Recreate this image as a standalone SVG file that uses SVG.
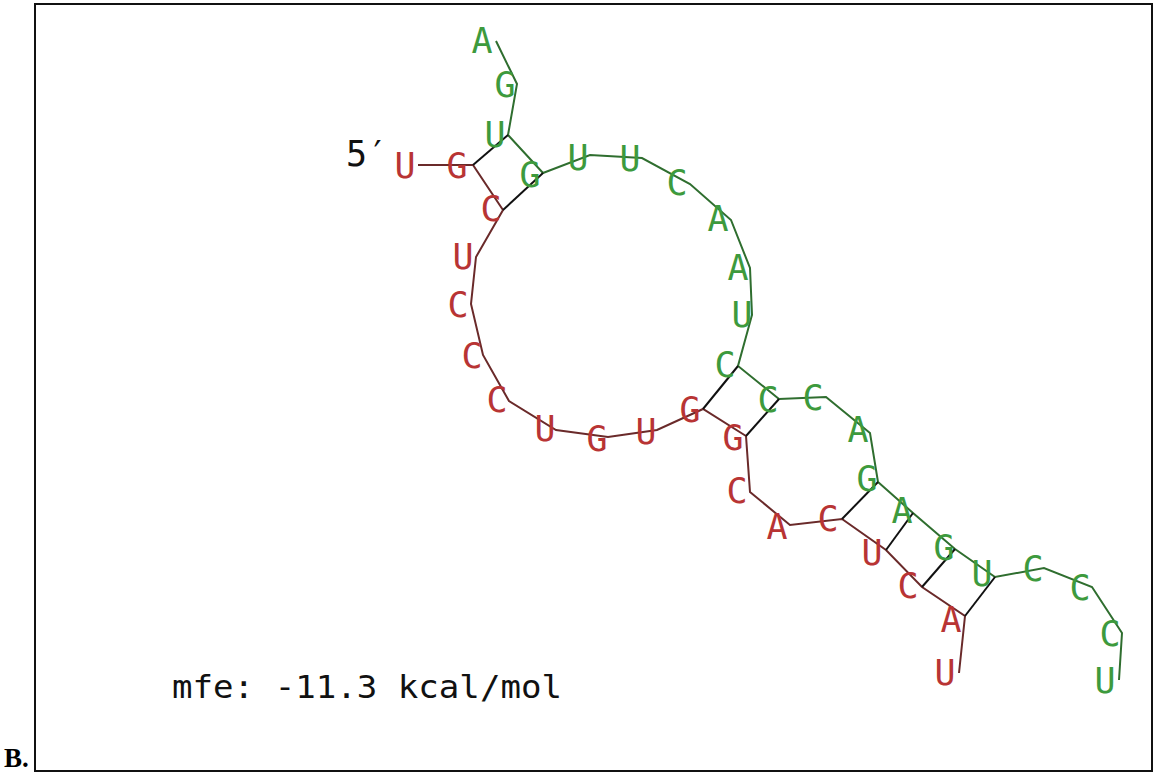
<svg xmlns="http://www.w3.org/2000/svg" width="1153" height="774" viewBox="0 0 1153 774">
<style>
.nt{font-family:"DejaVu Sans Mono","Liberation Mono",monospace;font-size:35px;text-anchor:middle}
.r{fill:#b83434}
.g{fill:#3d9a3d}
.bbr{stroke:#6a2a2a;stroke-width:2;fill:none}
.bbg{stroke:#2f6e2f;stroke-width:2;fill:none}
.bp{stroke:#111;stroke-width:2;fill:none}
.lbl{font-family:"DejaVu Sans Mono","Liberation Mono",monospace;fill:#111}
</style>
<rect x="0" y="0" width="1153" height="774" fill="#fff"/>
<rect x="35" y="4" width="1117" height="767" fill="none" stroke="#111" stroke-width="2"/>
<text x="4" y="767" font-family="Liberation Serif,serif" font-weight="bold" font-size="27" fill="#000">B.</text>
<g id="connectors">
<polyline class="bbr" points="418,165 473,165 503,210 476,257 471,304 483,355 509,401 556,430 608,437 657,430 703,409 746,436 750,492 790,525 842,519 886,550 922,587 965,616 959,673"/>
<polyline class="bbg" points="496,41 517,84 508,135 543,173 590,155 642,158 690,184 731,220 750,268 752,315 738,366 779,399 826,397 870,433 878,482 913,513 955,549 995,577 1044,568 1092,587 1122,633 1119,680"/>
<line class="bp" x1="473" y1="165" x2="508" y2="135"/>
<line class="bp" x1="503" y1="210" x2="543" y2="173"/>
<line class="bp" x1="703" y1="409" x2="738" y2="366"/>
<line class="bp" x1="746" y1="436" x2="779" y2="399"/>
<line class="bp" x1="842" y1="519" x2="878" y2="482"/>
<line class="bp" x1="886" y1="550" x2="913" y2="513"/>
<line class="bp" x1="922" y1="587" x2="955" y2="549"/>
<line class="bp" x1="965" y1="616" x2="995" y2="577"/>
</g>
<g id="r1"><text class="nt r" x="405" y="178">U</text></g>
<g id="r2"><text class="nt r" x="457" y="178">G</text></g>
<g id="r3"><text class="nt r" x="491" y="221">C</text></g>
<g id="r4"><text class="nt r" x="463" y="269">U</text></g>
<g id="r5"><text class="nt r" x="458" y="317">C</text></g>
<g id="r6"><text class="nt r" x="472" y="368">C</text></g>
<g id="r7"><text class="nt r" x="497" y="412">C</text></g>
<g id="r8"><text class="nt r" x="545" y="441">U</text></g>
<g id="r9"><text class="nt r" x="597" y="451">G</text></g>
<g id="r10"><text class="nt r" x="646" y="444">U</text></g>
<g id="r11"><text class="nt r" x="690" y="422">G</text></g>
<g id="r12"><text class="nt r" x="733" y="450">G</text></g>
<g id="r13"><text class="nt r" x="737" y="503">C</text></g>
<g id="r14"><text class="nt r" x="777" y="539">A</text></g>
<g id="r15"><text class="nt r" x="828" y="531">C</text></g>
<g id="r16"><text class="nt r" x="872" y="565">U</text></g>
<g id="r17"><text class="nt r" x="908" y="598">C</text></g>
<g id="r18"><text class="nt r" x="951" y="632">A</text></g>
<g id="r19"><text class="nt r" x="945" y="685">U</text></g>
<g id="g1"><text class="nt g" x="482" y="53">A</text></g>
<g id="g2"><text class="nt g" x="505" y="97">G</text></g>
<g id="g3"><text class="nt g" x="495" y="147">U</text></g>
<g id="g4"><text class="nt g" x="530" y="187">G</text></g>
<g id="g5"><text class="nt g" x="578" y="170">U</text></g>
<g id="g6"><text class="nt g" x="630" y="171">U</text></g>
<g id="g7"><text class="nt g" x="677" y="195">C</text></g>
<g id="g8"><text class="nt g" x="718" y="231">A</text></g>
<g id="g9"><text class="nt g" x="738" y="280">A</text></g>
<g id="g10"><text class="nt g" x="742" y="327">U</text></g>
<g id="g11"><text class="nt g" x="725" y="377">C</text></g>
<g id="g12"><text class="nt g" x="768" y="412">C</text></g>
<g id="g13"><text class="nt g" x="813" y="410">C</text></g>
<g id="g14"><text class="nt g" x="858" y="442">A</text></g>
<g id="g15"><text class="nt g" x="867" y="491">G</text></g>
<g id="g16"><text class="nt g" x="902" y="523">A</text></g>
<g id="g17"><text class="nt g" x="944" y="560">G</text></g>
<g id="g18"><text class="nt g" x="982" y="586">U</text></g>
<g id="g19"><text class="nt g" x="1033" y="581">C</text></g>
<g id="g20"><text class="nt g" x="1080" y="600">C</text></g>
<g id="g21"><text class="nt g" x="1110" y="646">C</text></g>
<g id="g22"><text class="nt g" x="1105" y="693">U</text></g>
<g id="label5"><text class="lbl" x="346" y="166" font-size="35">5′</text></g>
<g id="mfe"><text class="lbl" x="172" y="698" font-size="32" textLength="390" lengthAdjust="spacingAndGlyphs">mfe: -11.3 kcal/mol</text></g>
</svg>
